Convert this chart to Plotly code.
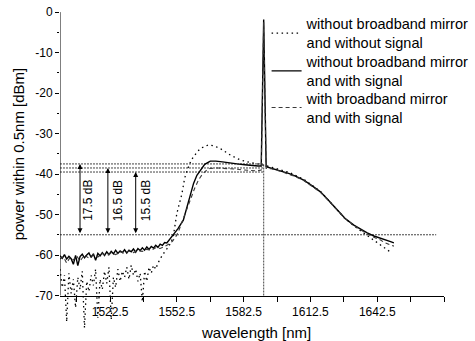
import plotly.graph_objects as go

# ---------------- data ----------------
# without broadband mirror and without signal (dotted)
dot_wl = [1500, 1501, 1502, 1503, 1504, 1505, 1506, 1507, 1508, 1509,
          1510, 1511, 1512, 1513, 1514, 1515, 1516, 1517, 1518, 1519,
          1520, 1521, 1522, 1523, 1524, 1525, 1526, 1527, 1528, 1529,
          1530, 1531, 1532, 1533, 1534, 1535, 1536, 1537, 1538, 1539,
          1540, 1541, 1542, 1543, 1544, 1545, 1546, 1548, 1550, 1551,
          1552.5, 1554.8, 1556, 1557.5, 1559, 1561, 1563, 1566.7, 1569, 1572,
          1574, 1576.5, 1579, 1581, 1585, 1588.5, 1591.5, 1595, 1599, 1603,
          1606, 1609.5, 1613, 1617, 1620.5, 1624.5, 1628, 1632, 1635, 1638,
          1641, 1644, 1647, 1649]
dot_pw = [-63.5, -68.0, -65.0, -76.5, -64.5, -69.5, -66.0, -73.0, -65.5, -68.5,
          -64.0, -78.0, -66.5, -69.0, -65.0, -67.5, -63.5, -75.5, -66.0, -68.5,
          -64.0, -67.0, -63.0, -76.0, -65.5, -68.0, -63.5, -66.5, -64.0, -65.5,
          -63.0, -66.0, -62.5, -65.0, -63.5, -66.5, -64.5, -71.5, -64.0, -66.5,
          -63.0, -64.5, -62.5, -63.5, -62.0, -61.0, -60.0, -58.5, -56.8, -55.0,
          -49.7, -44.8, -41.0, -38.5, -36.5, -35.0, -33.7, -32.8, -33.0, -33.7,
          -34.5, -35.3, -36.0, -36.5, -37.1, -37.4, -37.8, -38.3, -38.9, -39.6,
          -40.4, -41.3, -42.7, -44.3, -46.4, -48.9, -51.0, -52.8, -54.0, -55.2,
          -56.3, -57.4, -58.8, -59.5]

# without broadband mirror and with signal (solid)
sol_wl = [1500, 1501, 1502, 1503, 1504, 1505, 1506, 1507, 1508, 1509,
          1510, 1511, 1512, 1513, 1514, 1515, 1516, 1517, 1518, 1519,
          1520, 1521, 1522, 1523, 1524, 1525, 1526, 1527, 1528, 1529,
          1530, 1531, 1532, 1533, 1534, 1535, 1536, 1537, 1538, 1539,
          1540, 1541, 1542, 1543, 1544, 1545, 1546, 1547, 1548, 1549,
          1550, 1551, 1553, 1555.4, 1557.5, 1560, 1561.5, 1563, 1565, 1567.5,
          1570, 1573, 1576, 1579.5, 1583, 1586, 1589, 1590.4, 1591.5, 1592.6,
          1595, 1599, 1603, 1606, 1609.5, 1613, 1617, 1620.5, 1624.5, 1628,
          1632, 1635, 1638, 1641, 1644, 1646, 1648.5, 1650]
sol_pw = [-60.2, -60.8, -59.9, -61.0, -60.3, -60.9, -62.3, -60.1, -62.6, -60.4,
          -59.8, -60.7, -60.0, -59.5, -60.6, -59.7, -61.3, -59.6, -60.2, -59.4,
          -60.1, -59.2, -59.9, -59.1, -59.7, -58.8, -59.6, -59.0, -59.4, -58.7,
          -59.5, -58.8, -59.2, -58.5, -59.3, -58.4, -58.9, -58.2, -58.8, -58.0,
          -58.6, -57.9, -58.3, -57.6, -58.1, -57.3, -57.6, -56.9, -57.0, -56.3,
          -55.8, -55.0, -53.5, -51.4, -47.5, -42.3, -40.3, -39.0, -37.6, -36.8,
          -36.8, -37.0, -37.3, -37.5, -37.7, -37.9, -38.0, -38.0, -1.8, -38.2,
          -38.6, -39.2, -39.9, -40.6, -41.5, -42.8, -44.4, -46.4, -48.9, -50.9,
          -52.6, -53.6, -54.5, -55.3, -55.8, -56.2, -56.7, -57.0]

# with broadband mirror and with signal (dashed)
das_wl = [1500, 1501.5, 1503, 1504.5, 1506, 1507.5, 1509, 1511, 1513, 1515,
          1517, 1519, 1521, 1523, 1525, 1527, 1529, 1531, 1533, 1535,
          1537, 1539, 1541, 1543, 1545, 1547, 1549, 1550.5, 1552, 1553.2,
          1555, 1556.5, 1558.5, 1560.5, 1562.2, 1564, 1566, 1567.5, 1571, 1575,
          1579, 1582.5, 1586, 1588.5, 1590.4, 1591.5, 1592.6, 1595, 1599, 1603,
          1606, 1609.5, 1613, 1617, 1620.5, 1624.5, 1628, 1632, 1635, 1638,
          1641, 1644, 1646, 1648.5, 1650]
das_pw = [-61.0, -60.4, -62.0, -60.6, -61.2, -60.2, -61.5, -60.0, -60.8, -59.8,
          -60.5, -59.6, -60.2, -59.5, -59.9, -59.2, -59.6, -59.0, -59.4, -58.9,
          -59.1, -58.6, -58.8, -58.2, -58.4, -57.8, -57.3, -56.6, -55.5, -54.2,
          -51.5, -49.0, -46.4, -43.5, -41.5, -40.0, -39.0, -38.6, -38.5, -38.6,
          -38.8, -39.0, -39.1, -39.2, -39.0, -2.5, -38.6, -38.7, -39.3, -40.0,
          -40.7, -41.6, -42.9, -44.5, -46.5, -49.0, -51.0, -52.7, -53.8, -54.8,
          -55.6, -56.3, -57.0, -57.5, -57.8]

series_names = ["without broadband mirror<br>and without signal",
                "without broadband mirror<br>and with signal",
                "with broadband mirror<br>and with signal"]

# reference markings
level_tops = [-37.5, -38.5, -39.5]
level_floor = -55.0
signal_wl = 1591.5
arrow_wl = [1509.0, 1521.5, 1534.0]
arrow_label_wl = [1512.8, 1526.0, 1539.0]
arrow_labels = ["17.5 dB", "16.5 dB", "15.5 dB"]

x_ticks = [1507.5, 1522.5, 1537.5, 1552.5, 1567.5, 1582.5, 1597.5, 1612.5,
           1627.5, 1642.5, 1657.5, 1672.5]
x_labels = ["", "1522.5", "", "1552.5", "", "1582.5", "", "1612.5", "",
            "1642.5", "", ""]
y_ticks = [-70, -60, -50, -40, -30, -20, -10, 0]
y_minor = [-65, -55, -45, -35, -25, -15, -5]

for a, b in [(dot_wl, dot_pw), (sol_wl, sol_pw), (das_wl, das_pw)]:
    assert len(a) == len(b), (len(a), len(b))

# ---------------- figure ----------------
X0, X1 = 1500.0, 1672.5
Y0, Y1 = -80.0, 2.0
FONT = "Liberation Sans, Arial, Helvetica, sans-serif"

fig = go.Figure()
fig.add_trace(go.Scatter(x=dot_wl, y=dot_pw, mode="lines", name=series_names[0],
                         legend="legend",
                         line=dict(color="black", width=1.3, dash="1.5px,3.5px")))
fig.add_trace(go.Scatter(x=sol_wl, y=sol_pw, mode="lines", name=series_names[1],
                         legend="legend2",
                         line=dict(color="black", width=1.4)))
fig.add_trace(go.Scatter(x=das_wl, y=das_pw, mode="lines", name=series_names[2],
                         legend="legend3",
                         line=dict(color="#3a3a3a", width=1.1, dash="4px,3px")))

ref_line = dict(color="#444444", width=1, dash="2px,1px")
for lv in level_tops:
    fig.add_shape(type="line", xref="x", yref="y", x0=X0, x1=signal_wl, y0=lv, y1=lv,
                  line=ref_line, layer="below")
fig.add_shape(type="line", xref="x", yref="y", x0=X0, x1=1669.0,
              y0=level_floor, y1=level_floor, line=ref_line, layer="below")
fig.add_shape(type="line", xref="x", yref="y", x0=signal_wl, x1=signal_wl,
              y0=y_ticks[0], y1=level_tops[0], line=ref_line, layer="below")
# y axis line (only from -70 to 0)
fig.add_shape(type="line", xref="x", yref="y", x0=X0, x1=X0,
              y0=y_ticks[0], y1=y_ticks[-1], line=dict(color="black", width=1))

for xa, top, xl, lab in zip(arrow_wl, level_tops, arrow_label_wl, arrow_labels):
    fig.add_annotation(x=xa, y=top, ax=xa, ay=level_floor, xref="x", yref="y",
                       axref="x", ayref="y", text="", showarrow=True,
                       arrowhead=2, startarrowhead=2, arrowside="end+start",
                       arrowsize=1, startarrowsize=1, arrowwidth=1, arrowcolor="black")
    fig.add_annotation(x=xl, y=-46.5, xref="x", yref="y", text=lab, textangle=-90,
                       showarrow=False, font=dict(size=12, color="black", family=FONT))

fig.add_annotation(x=-0.108, y=-35, xref="paper", yref="y", xanchor="center",
                   yanchor="middle",
                   text="power within 0.5nm [dBm]", textangle=-90, showarrow=False,
                   font=dict(size=15, color="black", family=FONT))
fig.add_annotation(x=0.51, y=0.012, xref="paper", yref="paper", xanchor="center",
                   text="wavelength [nm]", showarrow=False, yanchor="middle",
                   font=dict(size=15, color="black", family=FONT))

pos = (y_ticks[0] - Y0) / (Y1 - Y0)
leg_common = dict(x=0.538, xanchor="left", yanchor="middle",
                  bgcolor="rgba(0,0,0,0)", font=dict(size=14.5, family=FONT),
                  itemwidth=30)
fig.update_layout(
    width=475, height=341,
    margin=dict(l=60, r=31, t=4, b=5, autoexpand=False),
    paper_bgcolor="white", plot_bgcolor="white",
    font=dict(family=FONT, color="black", size=12),
    showlegend=True,
    legend=dict(y=0.912, **leg_common),
    legend2=dict(y=0.798, **leg_common),
    legend3=dict(y=0.688, **leg_common),
    xaxis=dict(range=[X0, X1], tickmode="array", tickvals=x_ticks, ticktext=x_labels,
               ticks="outside", ticklen=5, tickwidth=1, tickcolor="black",
               showline=True, linecolor="black", linewidth=1, showgrid=False,
               zeroline=False, anchor="free", position=pos,
               tickfont=dict(size=12, family=FONT)),
    yaxis=dict(range=[Y0, Y1], tickmode="array", tickvals=y_ticks,
               ticktext=[str(v) for v in y_ticks],
               ticks="outside", ticklen=4, tickwidth=1, tickcolor="black",
               minor=dict(tickvals=y_minor, ticks="outside", ticklen=2.5,
                          tickcolor="black", showgrid=False),
               showline=False, showgrid=False, zeroline=False,
               tickfont=dict(size=12, family=FONT)),
)

fig.write_html("out.html", config={"displayModeBar": False},
               post_script="document.body.style.margin='0';")
